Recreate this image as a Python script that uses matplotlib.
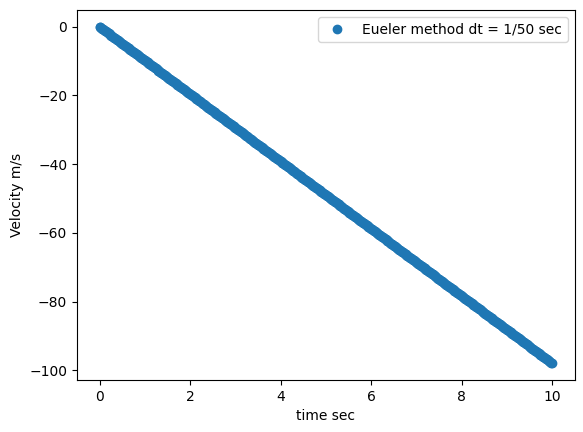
import numpy as np
import matplotlib
matplotlib.use("Agg")
import matplotlib.pyplot as plt

g = 9.8          # end velocity ~ -98 m/s at t = 10 s
dt = 1 / 50
t_end = 10.0
v0 = 0.0

# Euler integration, as the legend says
n = int(round(t_end / dt))
t = [0.0]
v = [v0]
for i in range(n):
    v.append(v[-1] - g * dt)
    t.append(t[-1] + dt)

fig = plt.figure(figsize=(5.83, 4.32), dpi=100)
ax = fig.add_axes([0.132, 0.120, 0.854, 0.857])
ax.plot(t, v, 'o', color='tab:blue', label='Eueler method dt = 1/50 sec')
ax.set_xlabel('time sec')
ax.set_ylabel('Velocity m/s')
ax.legend(loc='upper right')
fig.savefig('out.png', dpi=100)
